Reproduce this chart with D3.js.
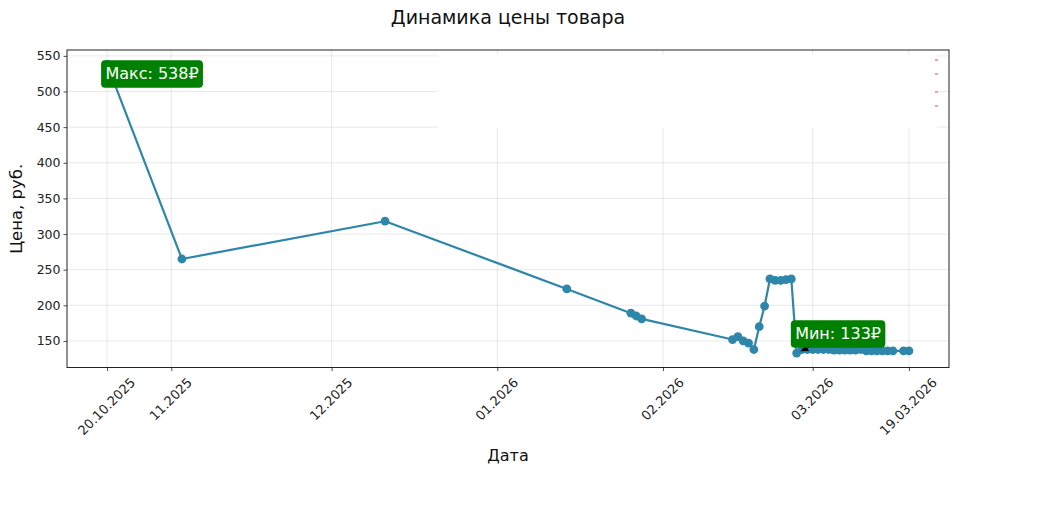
<!DOCTYPE html>
<html>
<head>
<meta charset="utf-8">
<script src="https://cdn.jsdelivr.net/npm/d3@7"></script>
<style>
  body { margin: 0; background: #fff; }
  text { font-family: "DejaVu Sans", sans-serif; }
</style>
</head>
<body>
<svg id="chart" width="1045" height="532"></svg>
<script>
// data
const dates = ["2025-10-20","2025-11-03","2025-12-11","2026-01-14","2026-01-26","2026-01-27","2026-01-28",
  "2026-02-14","2026-02-15","2026-02-16","2026-02-17","2026-02-18","2026-02-19","2026-02-20",
  "2026-02-21","2026-02-22","2026-02-23","2026-02-24","2026-02-25","2026-02-26",
  "2026-02-27","2026-02-28","2026-03-01","2026-03-02","2026-03-03","2026-03-04","2026-03-05",
  "2026-03-06","2026-03-07","2026-03-08","2026-03-09","2026-03-10","2026-03-11","2026-03-12",
  "2026-03-13","2026-03-14","2026-03-15","2026-03-16","2026-03-18","2026-03-19"];
const prices = [538,265,318,223,189,185,181,
  152,156,150,147,138,170,199,
  237,235,235,236,237,133,
  138,138,138,138,138,138,137,
  137,137,137,137,138,136,136,
  136,136,136,136,136,136];
const yTicks = [150,200,250,300,350,400,450,500,550];
const xTickDates = ["2025-10-20","2025-11-01","2025-12-01","2026-01-01","2026-02-01","2026-03-01","2026-03-19"];
const xTickLabels = ["20.10.2025","11.2025","12.2025","01.2026","02.2026","03.2026","19.03.2026"];

const parse = d3.utcParse("%Y-%m-%d");
const data = dates.map((d, i) => ({ date: parse(d), price: prices[i] }));

const svg = d3.select("#chart");
const plotL = 67, plotR = 949, plotT = 50, plotB = 367.5;
const lineColor = "#2E86AB";

// matplotlib-ish 5% margins
const dExt = d3.extent(data, d => d.date);
const padT = (dExt[1] - dExt[0]) * 0.05;
const x = d3.scaleUtc()
  .domain([new Date(+dExt[0] - padT), new Date(+dExt[1] + padT)])
  .range([plotL, plotR]);
const pExt = d3.extent(data, d => d.price);
const padP = (pExt[1] - pExt[0]) * 0.05;
const y = d3.scaleLinear()
  .domain([pExt[0] - padP, pExt[1] + padP])
  .range([plotB, plotT]);

// grid
const grid = svg.append("g").attr("stroke", "#b0b0b0").attr("stroke-opacity", 0.35).attr("stroke-width", 0.8);
grid.selectAll(".gy").data(yTicks).join("line")
  .attr("x1", plotL).attr("x2", plotR)
  .attr("y1", d => y(d)).attr("y2", d => y(d));
grid.selectAll(".gx").data(xTickDates).join("line")
  .attr("x1", d => x(parse(d))).attr("x2", d => x(parse(d)))
  .attr("y1", plotT).attr("y2", plotB);

// blank patch in the upper right (covers the grid there)
svg.append("rect").attr("x", 438).attr("y", 55).attr("width", 499).attr("height", 73).attr("fill", "#fff");
svg.selectAll(".pink").data([60, 74, 92, 106]).join("rect")
  .attr("x", 935).attr("y", d => d - 1).attr("width", 3).attr("height", 2)
  .attr("fill", "#e88aa8").attr("opacity", 0.8);

// price line + markers
const line = d3.line().x(d => x(d.date)).y(d => y(d.price));
svg.append("path").datum(data)
  .attr("d", line).attr("fill", "none")
  .attr("stroke", lineColor).attr("stroke-width", 2.2).attr("stroke-linejoin", "round");
svg.selectAll(".dot").data(data).join("circle")
  .attr("cx", d => x(d.date)).attr("cy", d => y(d.price))
  .attr("r", 4.4).attr("fill", lineColor);

// annotations for max and min
const maxD = data.reduce((a, b) => b.price > a.price ? b : a);
const minD = data.reduce((a, b) => b.price < a.price ? b : a);

function annotate(d, label, dx, dy) {
  const px = x(d.date), py = y(d.price);
  const g = svg.append("g");
  const t = g.append("text")
    .attr("x", px + dx).attr("y", py + dy)
    .attr("dominant-baseline", "central")
    .attr("font-size", 16).attr("fill", "#fff")
    .text(label);
  const bb = t.node().getBBox();
  const pad = 4.3;
  const cx = bb.x + bb.width / 2, cy = bb.y + bb.height / 2;

  // arrow (mostly hidden behind the box)
  const vx = px - cx, vy = py - cy, len = Math.hypot(vx, vy);
  const ux = vx / len, uy = vy / len;
  const tipX = px - ux * 4, tipY = py - uy * 4;
  const bx = tipX - ux * 8, by = tipY - uy * 8;
  g.insert("line", "text")
    .attr("x1", cx).attr("y1", cy).attr("x2", bx).attr("y2", by)
    .attr("stroke", "#000").attr("stroke-width", 1);
  g.insert("polygon", "text")
    .attr("points", [[tipX, tipY], [bx - uy * 3.5, by + ux * 3.5], [bx + uy * 3.5, by - ux * 3.5]].join(" "))
    .attr("fill", "#000");

  g.insert("rect", "text")
    .attr("x", bb.x - pad).attr("y", bb.y - pad + 0.5)
    .attr("width", bb.width + pad * 2).attr("height", bb.height + pad * 2)
    .attr("rx", 4).attr("fill", "#008000");
}
annotate(maxD, `Макс: ${maxD.price}₽`, -1.7, 9);
annotate(minD, `Мин: ${minD.price}₽`, -1.5, -19.5);

// axes
const fmt = d3.utcFormat("%Y-%m-%d");
const xAxis = d3.axisBottom(x)
  .tickValues(xTickDates.map(parse))
  .tickFormat(d => xTickLabels[xTickDates.indexOf(fmt(d))])
  .tickSizeOuter(0).tickSize(3.5).tickPadding(3);
const gx = svg.append("g").attr("transform", `translate(0,${plotB})`).call(xAxis);
gx.select(".domain").remove();
const xFont = 13;
gx.selectAll("text")
  .attr("font-size", xFont).attr("fill", "#222")
  .attr("text-anchor", "end")
  .each(function () {
    // rotate 45 deg, bounding box centred under the tick like matplotlib
    const w = this.getComputedTextLength();
    d3.select(this).attr("x", 0).attr("y", 0).attr("dy", null)
      .attr("dominant-baseline", "central")
      .attr("transform", `translate(${w * 0.354 - 1},${8 + xFont * 0.354}) rotate(-45)`);
  });

const yAxis = d3.axisLeft(y).tickValues(yTicks).tickSizeOuter(0).tickSize(3.5).tickPadding(3);
const gy = svg.append("g").attr("transform", `translate(${plotL},0)`).call(yAxis);
gy.select(".domain").remove();
gy.selectAll("text").attr("font-size", 12.5).attr("fill", "#222");
svg.selectAll(".tick line").attr("stroke", "#222").attr("stroke-width", 0.8);

// frame
svg.append("rect").attr("x", plotL).attr("y", plotT)
  .attr("width", plotR - plotL).attr("height", plotB - plotT)
  .attr("fill", "none").attr("stroke", "#222").attr("stroke-width", 1);

// titles
svg.append("text").attr("x", (plotL + plotR) / 2).attr("y", 24)
  .attr("text-anchor", "middle").attr("font-size", 19).attr("fill", "#111")
  .text("Динамика цены товара");
svg.append("text").attr("x", (plotL + plotR) / 2).attr("y", 461)
  .attr("text-anchor", "middle").attr("font-size", 16).attr("fill", "#111")
  .text("Дата");
svg.append("text")
  .attr("transform", `translate(22,${(plotT + plotB) / 2}) rotate(-90)`)
  .attr("text-anchor", "middle").attr("font-size", 16.5).attr("fill", "#111")
  .text("Цена, руб.");
</script>
</body>
</html>
